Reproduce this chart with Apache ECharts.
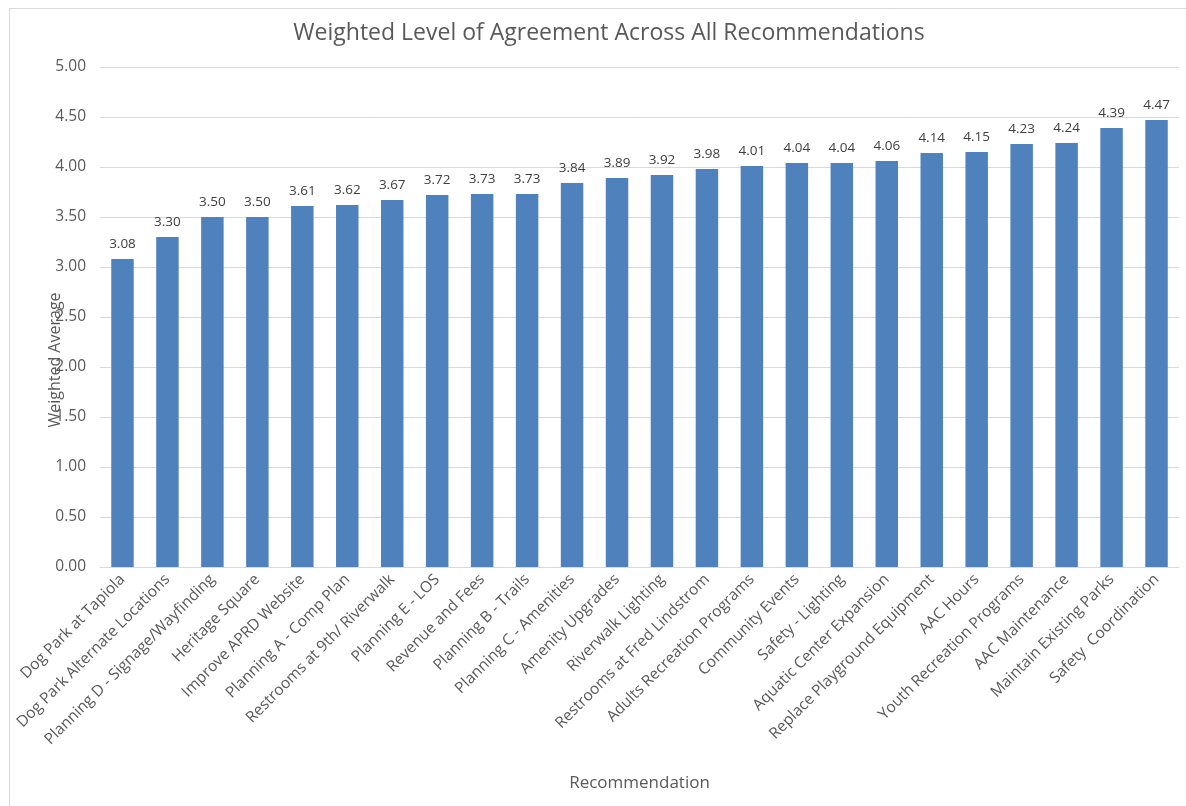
<!DOCTYPE html>
<html>
<head>
<meta charset="utf-8">
<script src="https://cdn.jsdelivr.net/npm/echarts@6/dist/echarts.min.js"></script>
<style>
html,body{margin:0;padding:0;background:#fff;}
#chart{width:1186px;height:806px;}
</style>
</head>
<body>
<div id="chart"></div>
<script>
const categories = [
  "Dog Park at Tapiola", "Dog Park Alternate Locations", "Planning D - Signage/Wayfinding",
  "Heritage Square", "Improve APRD Website", "Planning A - Comp Plan",
  "Restrooms at 9th/ Riverwalk", "Planning E - LOS", "Revenue and Fees",
  "Planning B - Trails", "Planning C - Amenities", "Amenity Upgrades",
  "Riverwalk Lighting", "Restrooms at Fred Lindstrom", "Adults Recreation Programs",
  "Community Events", "Safety - Lighting", "Aquatic Center Expansion",
  "Replace Playground Equipment", "AAC Hours", "Youth Recreation Programs",
  "AAC Maintenance", "Maintain Existing Parks", "Safety  Coordination"
];
const values = [3.08, 3.30, 3.50, 3.50, 3.61, 3.62, 3.67, 3.72, 3.73, 3.73, 3.84, 3.89,
  3.92, 3.98, 4.01, 4.04, 4.04, 4.06, 4.14, 4.15, 4.23, 4.24, 4.39, 4.47];
const titleText = "Weighted Level of Agreement Across All Recommendations";
const yName = "Weighted Average";
const xName = "Recommendation";

const FONT = "'Open Sans', 'Liberation Sans', sans-serif";
const chart = echarts.init(document.getElementById('chart'));
chart.setOption({
  animation: false,
  backgroundColor: '#fff',
  textStyle: { fontFamily: FONT },
  graphic: [{
    type: 'rect', left: 7, top: 6, z: -1,
    shape: { x: 0, y: 0, width: 1200, height: 820 },
    style: { fill: 'none', stroke: '#d9d9d9', lineWidth: 1 }
  }, {
    type: 'text', x: 55, y: 360, rotation: Math.PI / 2, z: 10,
    style: { text: yName, fill: '#595959', font: "16px 'Open Sans', sans-serif",
      textAlign: 'center', textVerticalAlign: 'middle' }
  }],
  title: {
    text: titleText, left: 604, top: 17, textAlign: 'center',
    textStyle: { fontFamily: FONT, fontSize: 23, fontWeight: 'normal', color: '#595959' }
  },
  grid: { left: 100, right: 7, top: 67, bottom: 239, containLabel: false },
  xAxis: {
    type: 'category', data: categories,
    name: xName, nameLocation: 'middle', nameGap: 208,
    nameTextStyle: { fontFamily: FONT, fontSize: 17, color: '#595959' },
    axisLine: { lineStyle: { color: '#d9d9d9' } },
    axisTick: { show: false },
    axisLabel: { interval: 0, rotate: 45, margin: 10, fontSize: 15.5, color: '#595959', fontFamily: FONT }
  },
  yAxis: {
    type: 'value', min: 0, max: 5, interval: 0.5,
    axisLabel: { formatter: v => v.toFixed(2), fontSize: 15.5, color: '#595959', margin: 14, fontFamily: FONT },
    splitLine: { lineStyle: { color: '#d9d9d9' } },
    axisLine: { show: false }, axisTick: { show: false }
  },
  series: [{
    type: 'bar', data: values, barWidth: '50%',
    itemStyle: { color: '#4F81BD' },
    label: { show: true, position: 'top', distance: 8, formatter: p => p.value.toFixed(2),
      fontSize: 13.5, color: '#404040', fontFamily: FONT }
  }]
});
</script>
</body>
</html>
